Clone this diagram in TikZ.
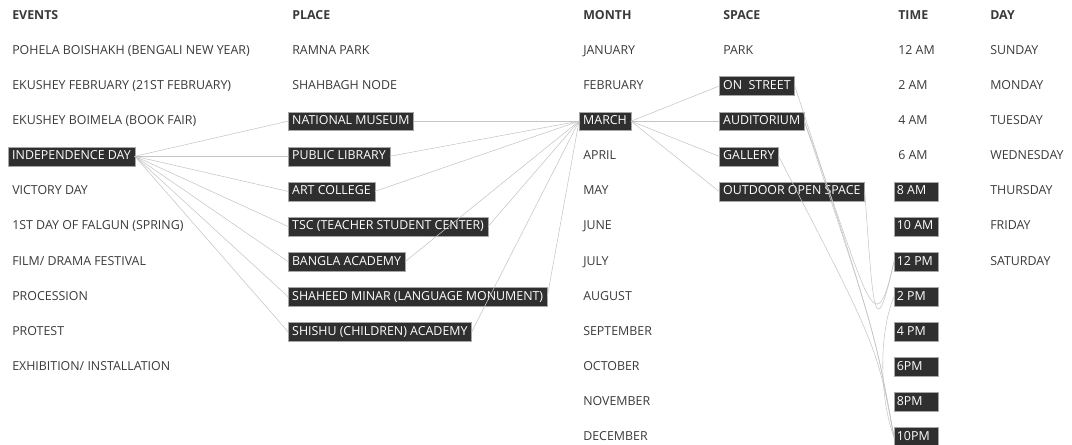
\documentclass[tikz,border=0pt]{standalone}
\usepackage{fontspec}
\setmainfont{Open Sans}
\definecolor{boxgray}{HTML}{2F2F2F}
\definecolor{linkgray}{HTML}{C4C4C4}
\definecolor{txtgray}{HTML}{3A3A3A}
\tikzset{
  item/.style={anchor=west, inner xsep=3pt, inner ysep=2.7pt, text height=7pt, text depth=1.8pt, text=txtgray},
  hl/.style={item, fill=boxgray, draw=gray!70, line width=0.3pt, text=white},
  head/.style={item, font=\fontsize{9.3}{11}\selectfont\bfseries},
  hltime/.style={hl, inner xsep=2pt},
  link/.style={draw=linkgray, line width=0.4pt},
}
\begin{document}
\begin{tikzpicture}[x=0.75pt,y=-0.75pt,font=\fontsize{9.3}{11}\selectfont, line join=round, line cap=round]
	\useasboundingbox (0,0) rectangle (1072,445);
	\def\dy{35.09}
	% headers
	\node[head] (hev) at (8,16) {EVENTS};
	\node[head] (hpl) at (288,16) {PLACE};
	\node[head] (hmo) at (579,16) {MONTH};
	\node[head] (hsp) at (719,16) {SPACE};
	\node[head] (hti) at (894,16) {TIME};
	\node[head] (hda) at (986,16) {DAY};
	% events
	\foreach \txt/\sty [count=\i] in {{POHELA BOISHAKH (BENGALI NEW YEAR)}/item, {EKUSHEY FEBRUARY (21ST FEBRUARY)}/item,
		{EKUSHEY BOIMELA (BOOK FAIR)}/item, {INDEPENDENCE DAY}/hl, {VICTORY DAY}/item, {1ST DAY OF FALGUN (SPRING)}/item,
		{FILM/ DRAMA FESTIVAL}/item, {PROCESSION}/item, {PROTEST}/item, {EXHIBITION/ INSTALLATION}/item}
		\node[\sty] (e\i) at (8,{51+(\i-1)*\dy}) {\txt};
	% places
	\foreach \txt/\sty [count=\i] in {{RAMNA PARK}/item, {SHAHBAGH NODE}/item, {NATIONAL MUSEUM}/hl, {PUBLIC LIBRARY}/hl,
		{ART COLLEGE}/hl, {TSC (TEACHER STUDENT CENTER)}/hl, {BANGLA ACADEMY}/hl,
		{SHAHEED MINAR (LANGUAGE MONUMENT)}/hl, {SHISHU (CHILDREN) ACADEMY}/hl}
		\node[\sty] (p\i) at (288,{51+(\i-1)*\dy}) {\txt};
	% months
	\foreach \txt/\sty [count=\i] in {JANUARY/item, FEBRUARY/item, MARCH/hl, APRIL/item, MAY/item, JUNE/item, JULY/item,
		AUGUST/item, SEPTEMBER/item, OCTOBER/item, NOVEMBER/item, DECEMBER/item}
		\node[\sty] (m\i) at (579,{51+(\i-1)*\dy}) {\txt};
	% spaces
	\foreach \txt/\sty [count=\i] in {PARK/item, {ON~~STREET}/hl, AUDITORIUM/hl, GALLERY/hl, {OUTDOOR OPEN SPACE}/hl}
		\node[\sty] (s\i) at (719,{51+(\i-1)*\dy}) {\txt};
	% times
	\foreach \txt/\sty [count=\i] in {12 AM/item, 2 AM/item, 4 AM/item, 6 AM/item, 8 AM/hltime, 10 AM/hltime, 12 PM/hltime,
		2 PM/hltime, 4 PM/hltime, 6PM/hltime, 8PM/hltime, 10PM/hltime}
		\node[\sty] (t\i) at (894,{51+(\i-1)*\dy}) {\makebox[29pt][l]{\txt}};
	% days
	\foreach \txt [count=\i] in {SUNDAY, MONDAY, TUESDAY, WEDNESDAY, THURSDAY, FRIDAY, SATURDAY}
		\node[item] (d\i) at (986,{51+(\i-1)*\dy}) {\txt};
	% links
	\foreach \j in {3,...,9} \draw[link] (e4.east) -- (p\j.west);
	\foreach \j in {3,...,9} \draw[link] (p\j.east) -- (m3.west);
	\foreach \j in {2,...,5} \draw[link] (m3.east) -- (s\j.west);
	\coordinate (hub) at (875,332);
	\coordinate (hubb) at (877,346);
	\draw[link] (s2.east) .. controls (hub) and (hub) .. (t12.west);
	\draw[link] (s3.east) .. controls (hub) and (hub) .. (t12.west);
	\draw[link] (s3.east) .. controls (868,295) and (874,352) .. (t7.west);
	\draw[link] (s4.east) .. controls (hubb) and (hubb) .. (t12.west);
	\draw[link] (s5.east) .. controls (873,305) and (874,352) .. (t7.west);
	\draw[link] (t8.west) .. controls (878,335) and (880,400) .. (t12.west);
\end{tikzpicture}
\end{document}
